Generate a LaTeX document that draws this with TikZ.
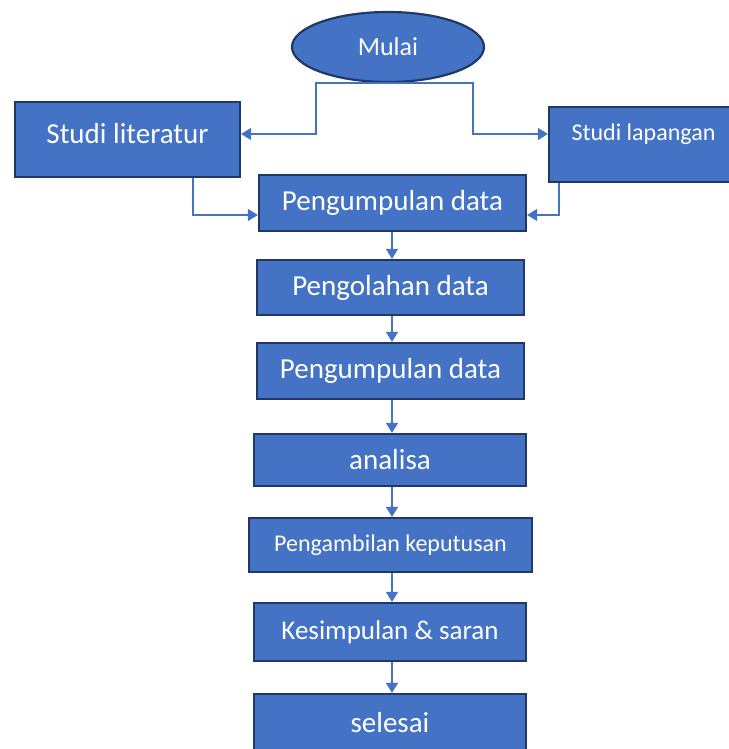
\documentclass[tikz,border=0pt]{standalone}
\usepackage{fontspec}
\setmainfont{Carlito}
\usetikzlibrary{arrows.meta,shapes.geometric}
\definecolor{boxfill}{RGB}{68,114,196}
\definecolor{boxline}{RGB}{32,56,100}
\definecolor{conn}{RGB}{68,114,196}
\tikzset{
  box/.style={draw=boxline,fill=boxfill,line width=2.2pt,rectangle,inner sep=0pt,text=white},
  conline/.style={draw=conn,line width=1.3pt,-{Triangle[length=10pt,width=12pt]}},
  lbl/.style={text=white,inner sep=0pt,anchor=center}
}
\begin{document}
\begin{tikzpicture}[x=1pt,y=-1pt]
\useasboundingbox (0,0) rectangle (728,749);
% start
\node[draw=boxline,fill=boxfill,line width=2.2pt,ellipse,minimum width=192pt,minimum height=70pt,inner sep=0pt,text=white,font=\fontsize{26}{30}\selectfont] (M) at (388,47) {Mulai};
% side boxes
\node[box,minimum width=225pt,minimum height=75pt] (SL) at (127.5,139.5) {};
\node[lbl,font=\fontsize{29}{33}\selectfont] (tSL) at (127.5,134) {Studi literatur};
\node[box,minimum width=211pt,minimum height=75pt] (SP) at (654.5,144.5) {};
\node[lbl,font=\fontsize{24}{28}\selectfont] (tSP) at (643.5,134) {Studi lapangan};
% main column
\node[box,minimum width=267pt,minimum height=56pt,font=\fontsize{29}{33}\selectfont] (P1) at (392.5,203) {Pengumpulan data};
\node[box,minimum width=267pt,minimum height=55pt,font=\fontsize{29}{33}\selectfont] (P2) at (390.5,287.5) {Pengolahan data};
\node[box,minimum width=267pt,minimum height=56pt,font=\fontsize{29}{33}\selectfont] (P3) at (390.5,371) {Pengumpulan data};
\node[box,minimum width=272pt,minimum height=52pt,font=\fontsize{29}{33}\selectfont] (AN) at (390,460) {analisa};
\node[box,minimum width=283pt,minimum height=54pt,font=\fontsize{24}{28}\selectfont] (PK) at (390.5,545) {Pengambilan keputusan};
\node[box,minimum width=272pt,minimum height=58pt,font=\fontsize{27}{31}\selectfont] (KS) at (390,632) {Kesimpulan \& saran};
\node[box,minimum width=272pt,minimum height=76pt] (SE) at (390,732) {};
\node[lbl,font=\fontsize{29}{33}\selectfont] (tSE) at (390,723) {selesai};
% helper coordinates
\coordinate (jl) at (316,134);
\coordinate (jr) at (473,134);
\coordinate (bl) at (193,215);
\coordinate (br) at (559,215);
\coordinate (ax) at (392,0);
% connectors from start
\draw[conline] (M.south) -| (jl) -- (jl -| SL.east);
\draw[conline] (M.south) -| (jr) -- (jr -| SP.west);
% side boxes to first data box
\draw[conline] (bl |- SL.south) -- (bl) -- (bl -| P1.west);
\draw[conline] (br |- SP.south) -- (br) -- (br -| P1.east);
% main column arrows
\draw[conline] (P1.south -| ax) -- (P2.north -| ax);
\draw[conline] (P2.south -| ax) -- (P3.north -| ax);
\draw[conline] (P3.south -| ax) -- (AN.north -| ax);
\draw[conline] (AN.south -| ax) -- (PK.north -| ax);
\draw[conline] (PK.south -| ax) -- (KS.north -| ax);
\draw[conline] (KS.south -| ax) -- (SE.north -| ax);
\end{tikzpicture}
\end{document}
